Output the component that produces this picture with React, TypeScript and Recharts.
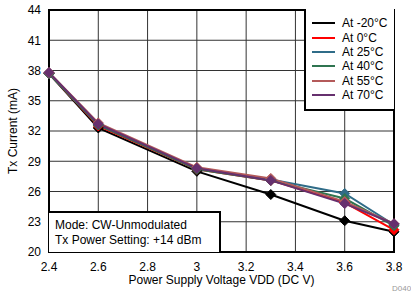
import { LineChart, Line, XAxis, YAxis, CartesianGrid, ReferenceArea } from 'recharts';

const voltages = [2.4, 2.6, 3.0, 3.3, 3.6, 3.8];
const xTicks = [2.4, 2.6, 2.8, 3.0, 3.2, 3.4, 3.6, 3.8];
const yTicks = [20, 23, 26, 29, 32, 35, 38, 41, 44];

const tempM20 = [37.7, 32.3, 28.0, 25.7, 23.1, 22.0];
const temp0 = [37.7, 32.5, 28.2, 27.1, 24.9, 22.2];
const temp25 = [37.7, 32.6, 28.3, 27.2, 25.8, 22.7];
const temp40 = [37.7, 32.6, 28.2, 27.1, 25.3, 22.6];
const temp55 = [37.8, 32.8, 28.4, 27.3, 25.0, 22.8];
const temp70 = [37.8, 32.7, 28.3, 27.1, 24.8, 22.8];

const series = [
  { key: 't1', name: 'At -20°C', values: tempM20, color: '#000000' },
  { key: 't2', name: 'At 0°C', values: temp0, color: '#ff0000' },
  { key: 't3', name: 'At 25°C', values: temp25, color: '#2f6c88' },
  { key: 't4', name: 'At 40°C', values: temp40, color: '#2f7450' },
  { key: 't5', name: 'At 55°C', values: temp55, color: '#b45a5a' },
  { key: 't6', name: 'At 70°C', values: temp70, color: '#66306e' },
];

const data = voltages.map((v, i) => {
  const row: Record<string, number> = { v };
  series.forEach((s) => {
    row[s.key] = s.values[i];
  });
  return row;
});

const font = '"Liberation Sans", Arial, sans-serif';

function diamond(color: string) {
  return (props: any) => {
    const { cx, cy, index } = props;
    const r = 5;
    return (
      <path
        key={index}
        d={`M${cx},${cy - r}L${cx + r},${cy}L${cx},${cy + r}L${cx - r},${cy}Z`}
        fill={color}
        stroke={color}
      />
    );
  };
}

function LegendBox() {
  return (
    <div style={{ position: 'absolute', left: 304, top: 9, width: 90, height: 102, border: '2px solid #000', borderRight: 'none', borderTop: 'none', background: '#fff', boxSizing: 'border-box', padding: '7px 0 0 0', fontSize: 12 }}>
      {series.map((s) => (
        <div key={s.key} style={{ display: 'flex', alignItems: 'center', height: 14.4 }}>
          <span style={{ display: 'inline-block', width: 23, height: 2, background: s.color, marginLeft: 6, marginRight: 7 }} />
          <span>{s.name}</span>
        </div>
      ))}
    </div>
  );
}

export default function App() {
  return (
    <div style={{ position: 'absolute', left: 0, top: 0, width: 411, height: 296, background: '#fff', fontFamily: font }}>
      <LineChart width={411} height={296} data={data} margin={{ top: 10, right: 17, bottom: 12, left: 9 }}>
        <CartesianGrid stroke="#333" strokeWidth={1} />
        <XAxis
          dataKey="v"
          type="number"
          domain={[2.4, 3.8]}
          ticks={xTicks}
          tickFormatter={(t: number) => String(Number(t.toFixed(1)))}
          axisLine={false}
          tickLine={false}
          height={32}
          tick={{ fill: '#000', fontSize: 12, fontFamily: font, dy: 2 }}
          label={{ value: 'Power Supply Voltage VDD (DC V)', position: 'insideBottom', offset: 0, fill: '#000', fontSize: 12, fontFamily: font }}
        />
        <YAxis
          type="number"
          domain={[20, 44]}
          ticks={yTicks}
          axisLine={false}
          tickLine={false}
          width={40}
          tick={{ fill: '#000', fontSize: 12, fontFamily: font }}
          label={{ value: 'Tx Current (mA)', angle: -90, position: 'insideLeft', offset: 0, dx: 4, fill: '#000', fontSize: 12, fontFamily: font, style: { textAnchor: 'middle' } }}
        />
        <ReferenceArea x1={2.4} x2={3.8} y1={20} y2={44} fill="none" stroke="#000" strokeWidth={2} />
        {series.map((s) => (
          <Line
            key={s.key}
            dataKey={s.key}
            name={s.name}
            stroke={s.color}
            strokeWidth={2}
            dot={diamond(s.color)}
            activeDot={false}
            isAnimationActive={false}
          />
        ))}
      </LineChart>
      <LegendBox />
      <div style={{ position: 'absolute', left: 49, top: 211, width: 172, height: 41, border: '2px solid #000', borderLeft: 'none', borderBottom: 'none', boxSizing: 'border-box', background: '#fff', fontSize: 12, lineHeight: '15px', padding: '5px 0 0 6px', color: '#000' }}>
        <div>Mode: CW-Unmodulated</div>
        <div>Tx Power Setting: +14 dBm</div>
      </div>
      <div style={{ position: 'absolute', left: 392, top: 284, fontSize: 8, color: '#999' }}>D040</div>
    </div>
  );
}
